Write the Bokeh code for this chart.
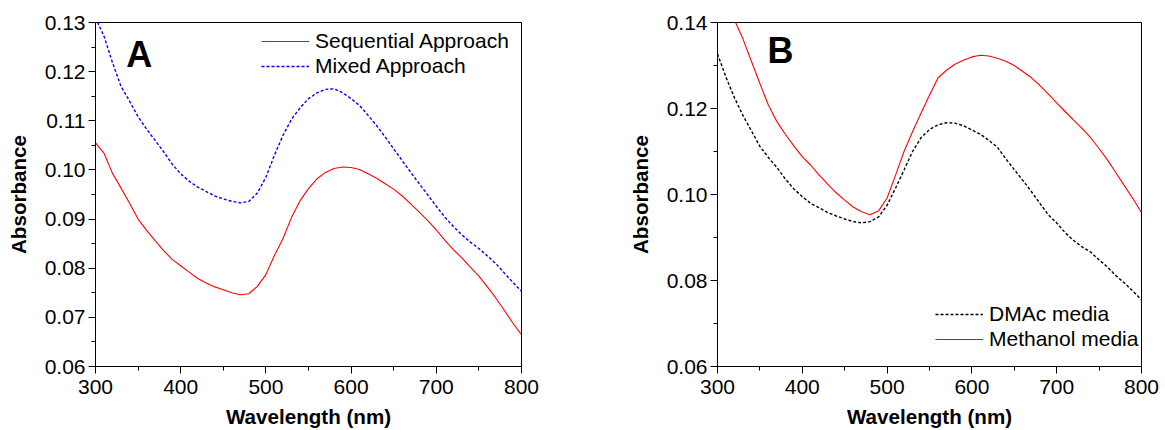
from bokeh.plotting import figure
from bokeh.layouts import row
from bokeh.models import Range1d, FixedTicker, NumeralTickFormatter, Legend, LegendItem, Label
from bokeh.embed import file_html
from bokeh.resources import INLINE

# Wavelength grid (nm)
wavelength = [300, 310, 320, 330, 340, 350, 360, 370, 380, 390,
              400, 410, 420, 430, 440, 450, 460, 470, 480, 490,
              500, 510, 520, 530, 540, 550, 560, 570, 580, 590,
              600, 610, 620, 630, 640, 650, 660, 670, 680, 690,
              700, 710, 720, 730, 740, 750, 760, 770, 780, 790, 800]

# Panel A: absorbance spectra
sequential_approach = [0.1055, 0.1034, 0.0993, 0.0963, 0.0932, 0.0900, 0.0877, 0.0856, 0.0836, 0.0818,
                       0.0805, 0.0792, 0.0779, 0.0770, 0.0762, 0.0756, 0.0750, 0.0746, 0.0748, 0.0763,
                       0.0787, 0.0826, 0.0860, 0.0903, 0.0937, 0.0962, 0.0982, 0.0995, 0.1003, 0.1006,
                       0.1005, 0.1001, 0.0992, 0.0983, 0.0972, 0.0961, 0.0947, 0.0931, 0.0914, 0.0897,
                       0.0878, 0.0857, 0.0838, 0.0821, 0.0802, 0.0784, 0.0762, 0.0739, 0.0714, 0.0688, 0.0665]
mixed_approach = [0.1310, 0.1272, 0.1218, 0.1170, 0.1140, 0.1108, 0.1083, 0.1060, 0.1037, 0.1012,
                  0.0992, 0.0977, 0.0965, 0.0956, 0.0947, 0.0941, 0.0936, 0.0933, 0.0936, 0.0953,
                  0.0985, 0.1030, 0.1070, 0.1103, 0.1126, 0.1145, 0.1157, 0.1164, 0.1165, 0.1157,
                  0.1145, 0.1131, 0.1111, 0.1090, 0.1067, 0.1043, 0.1019, 0.0995, 0.0972, 0.0949,
                  0.0926, 0.0904, 0.0885, 0.0868, 0.0853, 0.0840, 0.0825, 0.0809, 0.0790, 0.0771, 0.0753]

# Panel B: absorbance spectra
dmac_media = [0.1327, 0.1273, 0.1225, 0.1184, 0.1148, 0.1112, 0.1086, 0.1063, 0.1036, 0.1013,
              0.0995, 0.0979, 0.0969, 0.0958, 0.0950, 0.0943, 0.0937, 0.0934, 0.0937, 0.0948,
              0.0975, 0.1015, 0.1057, 0.1100, 0.1132, 0.1151, 0.1162, 0.1167, 0.1166, 0.1160,
              0.1150, 0.1140, 0.1126, 0.1110, 0.1083, 0.1058, 0.1033, 0.1007, 0.0980, 0.0953,
              0.0934, 0.0911, 0.0893, 0.0878, 0.0866, 0.0848, 0.0831, 0.0811, 0.0794, 0.0775, 0.0755]
methanol_media = [0.1490, 0.1450, 0.1406, 0.1362, 0.1310, 0.1258, 0.1208, 0.1170, 0.1140, 0.1113,
                  0.1088, 0.1068, 0.1045, 0.1024, 0.1004, 0.0987, 0.0971, 0.0960, 0.0953, 0.0962,
                  0.0992, 0.1045, 0.1100, 0.1146, 0.1189, 0.1231, 0.1271, 0.1289, 0.1303, 0.1312,
                  0.1320, 0.1324, 0.1322, 0.1317, 0.1310, 0.1300, 0.1286, 0.1272, 0.1254, 0.1234,
                  0.1213, 0.1193, 0.1173, 0.1154, 0.1132, 0.1107, 0.1080, 0.1050, 0.1020, 0.0990, 0.0958]

# Tick positions
x_ticks = [300, 400, 500, 600, 700, 800]
x_minor_ticks = [350, 450, 550, 650, 750]
a_y_ticks = [0.06, 0.07, 0.08, 0.09, 0.10, 0.11, 0.12, 0.13]
a_y_minor_ticks = [0.065, 0.075, 0.085, 0.095, 0.105, 0.115, 0.125]
b_y_ticks = [0.06, 0.08, 0.10, 0.12, 0.14]
b_y_minor_ticks = [0.07, 0.09, 0.11, 0.13]

FONT = "Liberation Sans"


def make_panel(width, left, right, y_range, y_ticks, y_minor):
    p = figure(width=width, height=430, output_backend="svg", toolbar_location=None,
               x_range=Range1d(300, 800), y_range=Range1d(*y_range),
               min_border_left=left, min_border_right=right,
               min_border_top=22, min_border_bottom=64)
    p.xgrid.visible = False
    p.ygrid.visible = False
    p.outline_line_color = "black"
    p.outline_line_width = 1
    p.outline_line_alpha = 1
    p.background_fill_color = "white"
    p.border_fill_color = "white"

    p.xaxis.ticker = FixedTicker(ticks=x_ticks, minor_ticks=x_minor_ticks)
    p.yaxis.ticker = FixedTicker(ticks=y_ticks, minor_ticks=y_minor)
    p.yaxis.formatter = NumeralTickFormatter(format="0.00")
    p.xaxis.axis_label = "Wavelength (nm)"
    p.yaxis.axis_label = "Absorbance"
    for ax in (p.xaxis[0], p.yaxis[0]):
        ax.axis_line_color = "black"
        ax.axis_line_width = 1
        ax.major_tick_line_color = "black"
        ax.minor_tick_line_color = "black"
        ax.major_tick_out = 7
        ax.major_tick_in = 0
        ax.minor_tick_out = 4
        ax.minor_tick_in = 0
        ax.major_label_text_font = FONT
        ax.major_label_text_font_size = "21px"
        ax.major_label_text_color = "black"
        ax.axis_label_text_font = FONT
        ax.axis_label_text_font_size = "20.6px"
        ax.axis_label_text_font_style = "bold"
        ax.axis_label_text_color = "black"
    p.xaxis.major_label_standoff = 6
    p.xaxis.axis_label_standoff = 8
    p.yaxis.major_label_standoff = 3
    p.yaxis.axis_label_standoff = 12
    return p


def style_legend(legend):
    legend.border_line_alpha = 0
    legend.background_fill_alpha = 0
    legend.padding = 0
    legend.spacing = 1
    legend.glyph_width = 48
    legend.glyph_height = 20
    legend.label_height = 20
    legend.label_standoff = 6
    legend.label_text_font = FONT
    legend.label_text_font_size = "21px"
    legend.label_text_color = "black"


# ---- Panel A ----
pa = make_panel(620, 95, 99, (0.06, 0.13), a_y_ticks, a_y_minor_ticks)
ra1 = pa.line(wavelength, sequential_approach, line_color="#ff0000", line_width=1.1)
ra2 = pa.line(wavelength, mixed_approach, line_color="#0000ff", line_width=1.4, line_dash="3 2")
leg_a = Legend(items=[LegendItem(label="Sequential Approach", renderers=[ra1]),
                      LegendItem(label="Mixed Approach", renderers=[ra2])],
               location=(166, 288))
style_legend(leg_a)
pa.add_layout(leg_a)
pa.add_layout(Label(x=336, y=0.1194, text="A", text_font=FONT, text_font_size="36px",
                    text_font_style="bold", text_color="black"))

# ---- Panel B ----
pb = make_panel(545, 97, 24, (0.06, 0.14), b_y_ticks, b_y_minor_ticks)
rb1 = pb.line(wavelength, dmac_media, line_color="black", line_width=1.4, line_dash="3 2")
rb2 = pb.line(wavelength, methanol_media, line_color="#ff0000", line_width=1.1)
leg_b = Legend(items=[LegendItem(label="DMAc media", renderers=[rb1]),
                      LegendItem(label="Methanol media", renderers=[rb2])],
               location=(218, 15))
style_legend(leg_b)
pb.add_layout(leg_b)
pb.add_layout(Label(x=359, y=0.1288, text="B", text_font=FONT, text_font_size="36px",
                    text_font_style="bold", text_color="black"))

layout = row(pa, pb)
open("out.html", "w").write(file_html(layout, INLINE))
